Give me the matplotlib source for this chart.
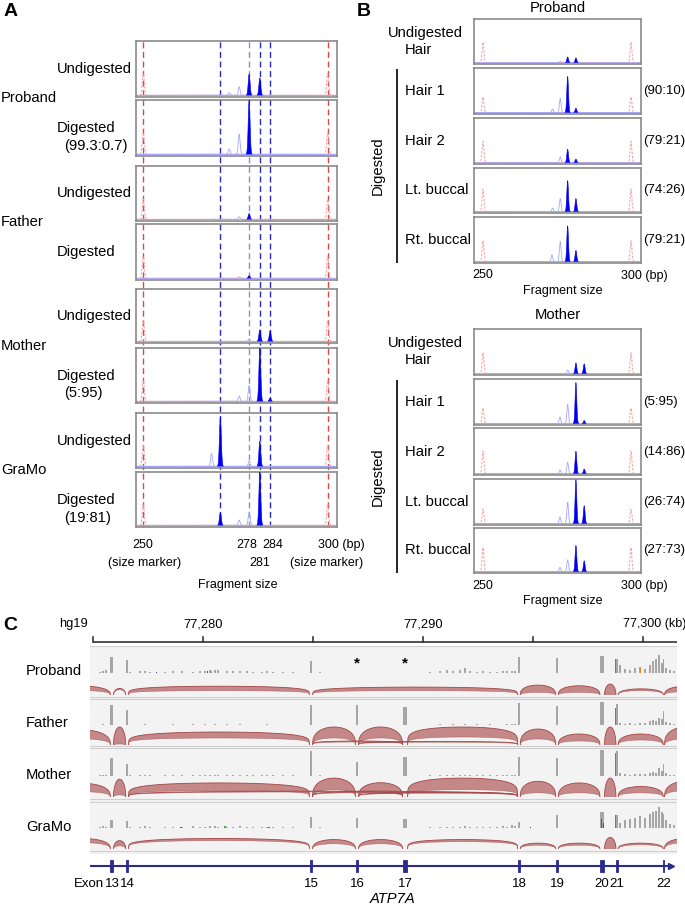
import numpy as np
import matplotlib
matplotlib.use('Agg')
import matplotlib.pyplot as plt
from matplotlib.patches import Rectangle

plt.rcParams['font.family'] = ['Liberation Sans', 'DejaVu Sans']

# ====================== DATA ======================
# ---- Panel A (capillary electrophoresis, bp) ----
A_SAMPLES = ['Proband', 'Father', 'Mother', 'GraMo']
A_ROWS = ['Undigested', 'Digested'] * 4
A_RATIOS = ['', '(99.3:0.7)', '', '', '', '(5:95)', '', '(19:81)']
A_GUIDES_BP = [270.9, 278.7, 281.6, 284.4]
MARKERS_BP = [250, 300]
A_MAIN_POS = [[278.7, 281.6], [278.7], [278.7], [278.7],
              [281.6, 284.4], [281.6, 284.4], [270.9, 281.6], [270.9, 281.6]]
A_MAIN_H = [[0.39, 0.32], [1.0], [0.11], [0.05],
            [0.22, 0.20], [1.0, 0.06], [0.93, 0.47], [0.24, 1.0]]
A_FAINT_POS = [[273.3, 276.0], [273.3, 276.0], [276.0], [276.0],
               [278.7], [276.0, 278.7], [268.5, 278.7], [276.0, 278.7]]
A_FAINT_H = [[0.05, 0.16], [0.10, 0.37], [0.05], [0.03],
             [0.05], [0.10, 0.30], [0.24, 0.10], [0.10, 0.25]]
A_MARKER_H = [0.40, 0.40, 0.38, 0.40, 0.40, 0.40, 0.40, 0.40]

# ---- Panel B ----
B_ROWS = ['Hair 1', 'Hair 2', 'Lt. buccal', 'Rt. buccal']
B_PRO_RATIOS = ['(90:10)', '(79:21)', '(74:26)', '(79:21)']
B_MOM_RATIOS = ['(5:95)', '(14:86)', '(26:74)', '(27:73)']
B_PRO_MAIN_POS = [[278.6, 281.4]] * 5
B_PRO_MAIN_H = [[0.13, 0.11], [0.81, 0.10], [0.30, 0.08], [0.71, 0.30], [0.80, 0.25]]
B_PRO_FAINT_POS = [[276.0], [273.5, 276.1], [276.1], [273.5, 276.1], [273.3, 276.1]]
B_PRO_FAINT_H = [[0.03], [0.08, 0.32], [0.13], [0.08, 0.30], [0.15, 0.45]]
B_PRO_MARKER_H = [0.47, 0.35, 0.48, 0.52, 0.47]
B_MOM_MAIN_POS = [[281.4, 284.2]] * 5
B_MOM_MAIN_H = [[0.24, 0.22], [0.92, 0.07], [0.49, 0.10], [0.98, 0.40], [0.60, 0.25]]
B_MOM_FAINT_POS = [[278.6], [276.0, 278.6], [276.0, 278.6], [276.0, 278.6], [276.0, 278.6]]
B_MOM_FAINT_H = [[0.08], [0.15, 0.43], [0.08, 0.25], [0.15, 0.48], [0.10, 0.27]]
B_MOM_MARKER_H = [0.47, 0.35, 0.50, 0.33, 0.55]

# ---- Panel C (RNA-seq sashimi, kb on chrX hg19) ----
C_SAMPLES = ['Proband', 'Father', 'Mother', 'GraMo']
RULER_TICKS_KB = [77275, 77280, 77285, 77290, 77295, 77300]
RULER_LABELS = {77280: '77,280', 77290: '77,290', 77300: '77,300 (kb)'}
EXON_NAMES = ['13', '14', '15', '16', '17', '18', '19', '20', '21', '22']
EXON_KB = [77275.86, 77276.55, 77284.91, 77287.00, 77289.18,
           77294.36, 77296.09, 77298.14, 77298.82, 77300.95]
EXON_W_KB = [0.13, 0.11, 0.13, 0.13, 0.22, 0.11, 0.11, 0.20, 0.09, 0.05]

COV_PROBAND = [0.62, 0.50, 0.45, 0.0, 0.0, 0.62, 0.57, 0.65, 0.55, 0.55]
COV_FATHER = [0.80, 0.60, 0.80, 0.80, 0.72, 0.88, 0.76, 0.92, 0.84, 0.55]
COV_MOTHER = [0.70, 0.45, 0.95, 0.55, 0.75, 0.73, 0.70, 1.00, 0.95, 0.45]
COV_GRAMO = [0.30, 0.28, 0.43, 0.38, 0.35, 0.25, 0.50, 0.63, 0.50, 0.55]

NOISE_KB = [77275.32, 77275.45, 77275.59, 77276.68, 77277.14, 77277.36, 77277.59, 77278.27,
            77278.64, 77279.05, 77279.55, 77279.86, 77280.09, 77280.32, 77280.55, 77280.68,
            77281.09, 77281.36, 77281.68, 77282.00, 77282.27, 77282.68, 77282.91, 77283.18,
            77283.64, 77284.09, 77285.32,
            77290.32, 77290.77, 77291.09, 77291.36, 77291.68, 77291.91, 77292.14, 77292.45,
            77292.73, 77293.05, 77293.36, 77293.64, 77293.82, 77294.05, 77294.18,
            77298.95, 77299.18, 77299.41, 77299.64, 77299.86, 77300.09, 77300.32, 77300.45,
            77300.59, 77300.73, 77300.86, 77301.05, 77301.23, 77301.41]
NOISE_PROBAND = [0.05, 0.08, 0.10, 0.05, 0.06, 0.08, 0.05, 0.04, 0.07, 0.06, 0.05, 0.06, 0.08, 0.10,
                 0.12, 0.10, 0.07, 0.08, 0.07, 0.06, 0.04, 0.05, 0.06, 0.05, 0.03, 0.02, 0.03,
                 0.03, 0.06, 0.10, 0.08, 0.10, 0.20, 0.08, 0.05, 0.06, 0.04, 0.03, 0.08, 0.06, 0.08, 0.07,
                 0.30, 0.15, 0.10, 0.20, 0.25, 0.15, 0.30, 0.45, 0.55, 0.70, 0.40, 0.20, 0.10, 0.08]
NOISE_FATHER = [0.02, 0.03, 0.02, 0.02, 0.02, 0.03, 0.02, 0.02, 0.03, 0.02, 0.03, 0.02, 0.03, 0.02,
                0.03, 0.02, 0.03, 0.02, 0.03, 0.02, 0.02, 0.02, 0.03, 0.02, 0.02, 0.02, 0.02,
                0.02, 0.03, 0.02, 0.03, 0.02, 0.03, 0.02, 0.03, 0.02, 0.03, 0.02, 0.02, 0.03, 0.04, 0.03,
                0.10, 0.05, 0.08, 0.06, 0.10, 0.08, 0.15, 0.20, 0.15, 0.30, 0.25, 0.12, 0.08, 0.05]
NOISE_MOTHER = [0.02, 0.02, 0.02, 0.02, 0.03, 0.02, 0.02, 0.02, 0.02, 0.03, 0.02, 0.02, 0.02, 0.03,
                0.02, 0.02, 0.02, 0.03, 0.02, 0.02, 0.02, 0.02, 0.02, 0.02, 0.02, 0.02, 0.02,
                0.03, 0.03, 0.02, 0.03, 0.03, 0.02, 0.03, 0.03, 0.02, 0.03, 0.03, 0.02, 0.03, 0.04, 0.03,
                0.10, 0.06, 0.04, 0.06, 0.08, 0.06, 0.12, 0.15, 0.10, 0.30, 0.20, 0.10, 0.05, 0.04]
NOISE_GRAMO = [0.04, 0.06, 0.05, 0.05, 0.04, 0.06, 0.05, 0.04, 0.05, 0.04, 0.06, 0.05, 0.05, 0.06,
               0.07, 0.05, 0.04, 0.05, 0.06, 0.05, 0.04, 0.05, 0.04, 0.05, 0.04, 0.05, 0.04,
               0.04, 0.05, 0.04, 0.05, 0.04, 0.06, 0.05, 0.04, 0.05, 0.04, 0.05, 0.06, 0.05, 0.10, 0.08,
               0.20, 0.30, 0.35, 0.40, 0.45, 0.40, 0.55, 0.60, 0.65, 0.80, 0.60, 0.30, 0.15, 0.10]

MIS_PROBAND_KB = [77277.90, 77280.20, 77280.40, 77298.75, 77299.90]
MIS_PROBAND_H = [0.04, 0.06, 0.08, 0.55, 0.20]
MIS_PROBAND_C = ['#4040d0', '#d03030', '#e08a20', '#30b030', '#e08a20']
MIS_FATHER_KB = [77298.75]
MIS_FATHER_H = [0.70]
MIS_FATHER_C = ['#30b030']
MIS_MOTHER_KB = [77298.75]
MIS_MOTHER_H = [0.90]
MIS_MOTHER_C = ['#30b030']
MIS_GRAMO_KB = [77279.00, 77281.00, 77283.00, 77294.90, 77298.10, 77298.20, 77298.75]
MIS_GRAMO_H = [0.05, 0.06, 0.05, 0.04, 0.35, 0.20, 0.50]
MIS_GRAMO_C = ['#d03030', '#30b030', '#d03030', '#4040d0', '#d03030', '#4040d0', '#30b030']

# canonical junctions 12-13, 13-14, ..., 21-22, 22-23
JUNC_START = [77273.30, 77275.93, 77276.61, 77284.98, 77287.07, 77289.30,
              77294.42, 77296.15, 77298.25, 77298.87, 77300.98]
JUNC_END = [77275.79, 77276.49, 77284.84, 77286.93, 77289.07, 77294.30,
            77296.03, 77298.04, 77298.77, 77300.92, 77302.90]
ARC_OUT_PROBAND = [0.40, 0.30, 0.40, 0.0, 0.0, 0.0, 0.45, 0.42, 0.50, 0.28, 0.40]
ARC_IN_PROBAND = [0.20, 0.24, 0.20, 0.0, 0.0, 0.0, 0.12, 0.12, 0.00, 0.20, 0.15]
ARC_OUT_FATHER = [0.75, 0.90, 0.65, 0.90, 0.90, 0.90, 0.80, 0.55, 0.90, 0.55, 0.90]
ARC_IN_FATHER = [0.30, 0.05, 0.35, 0.35, 0.35, 0.40, 0.30, 0.20, 0.00, 0.25, 0.30]
ARC_OUT_MOTHER = [0.65, 0.85, 0.67, 0.90, 0.68, 0.90, 0.75, 0.67, 0.90, 0.50, 0.75]
ARC_IN_MOTHER = [0.25, 0.10, 0.30, 0.35, 0.30, 0.35, 0.20, 0.20, 0.00, 0.20, 0.30]
ARC_OUT_GRAMO = [0.50, 0.40, 0.50, 0.45, 0.45, 0.45, 0.28, 0.28, 0.55, 0.28, 0.50]
ARC_IN_GRAMO = [0.30, 0.15, 0.40, 0.25, 0.25, 0.35, 0.18, 0.18, 0.00, 0.20, 0.30]
# exon-skipping junctions
SKIP_PROBAND = ([77284.98], [77294.30], [0.36], [0.20])
SKIP_FATHER = ([77284.98, 77287.07], [77289.07, 77294.30], [0.20, 0.18], [0.15, 0.14])
SKIP_MOTHER = ([77276.61, 77284.98, 77287.07], [77294.30, 77289.07, 77294.30],
               [0.28, 0.25, 0.22], [0.24, 0.20, 0.18])
SKIP_GRAMO = ([], [], [], [])

# ====================== FIGURE ======================
W, H = 685, 905
fig = plt.figure(figsize=(W / 100, H / 100), dpi=100)


def ax_px(x0, y0, x1, y1, **kw):
    return fig.add_axes([x0 / W, 1 - y1 / H, (x1 - x0) / W, (y1 - y0) / H], **kw)


def txt(x, y, s, **kw):
    kw.setdefault('va', 'center')
    return fig.text(x / W, 1 - y / H, s, **kw)


LAB = 10.6
AXF = 9.0
BLUE = '#0000f0'


def draw_trace(ax, xlim, mpos, mh, fpos, fh, mk_h, sigma):
    xs = np.linspace(xlim[0], xlim[1], 2500)
    ax.plot(xs, np.full_like(xs, 0.0), color='#d6d6ff', lw=0.6, zorder=1)
    for m in MARKERS_BP:
        g = mk_h * np.exp(-0.5 * ((xs - m) / (sigma * 1.1)) ** 2)
        ax.plot(xs, g, color='#f2a0a0', lw=0.7, ls=(0, (2.5, 1.5)), zorder=2)
    for p, h in zip(fpos, fh):
        g = h * np.exp(-0.5 * ((xs - p) / sigma) ** 2)
        ax.plot(xs, g, color='#a3a8ff', lw=0.6, zorder=2)
    for p, h in zip(mpos, mh):
        g = h * np.exp(-0.5 * ((xs - p) / sigma) ** 2)
        ax.fill_between(xs, 0, g, where=g > 0.004, facecolor=BLUE, edgecolor='none',
                        lw=0, zorder=3)
        ax.plot(xs[g > 0.004], g[g > 0.004], color=BLUE, lw=0.4, zorder=3)
    ax.set_xlim(*xlim)
    ax.set_ylim(-0.03, 1.0)
    ax.set_xticks([])
    ax.set_yticks([])
    ax.set_facecolor('none')
    for s in ax.spines.values():
        s.set_color('#8a8a8a')
        s.set_linewidth(1.2)


# ---------------- Panel A ----------------
A_XLIM = (248.02, 302.52)
A_BOX_Y = [(41, 97), (100, 156), (166, 221), (224, 280), (289, 343), (348, 403), (413, 468), (472, 527)]
ov = ax_px(136, 41, 337, 527)
ov.set_xlim(*A_XLIM)
ov.set_ylim(0, 1)
ov.axis('off')
for m in MARKERS_BP:
    ov.axvline(m, color='#e04848', lw=1.0, ls=(0, (4.3, 2.6)))
for i, g in enumerate(A_GUIDES_BP):
    ov.axvline(g, color='#8c8cd2' if i == 1 else '#2a2ac0', lw=1.0, ls=(0, (4.3, 2.6)))

for i, (y0, y1) in enumerate(A_BOX_Y):
    ax = ax_px(136, y0, 337, y1)
    draw_trace(ax, A_XLIM, A_MAIN_POS[i], A_MAIN_H[i], A_FAINT_POS[i], A_FAINT_H[i], A_MARKER_H[i], 0.25)
    yc = (y0 + y1) / 2
    txt(57, yc, A_ROWS[i], fontsize=LAB, ha='left')
    if A_RATIOS[i]:
        txt(64, yc + 18, A_RATIOS[i], fontsize=LAB, ha='left')

for name, y in zip(A_SAMPLES, [98, 222, 346, 470]):
    txt(1, y, name, fontsize=LAB, ha='left')

txt(143, 545, '250', fontsize=AXF, ha='center')
txt(145, 563, '(size marker)', fontsize=AXF, ha='center')
txt(247, 545, '278', fontsize=AXF, ha='center')
txt(273, 545, '284', fontsize=AXF, ha='center')
txt(260, 563, '281', fontsize=AXF, ha='center')
txt(318, 545, '300 (bp)', fontsize=AXF, ha='left')
txt(327, 563, '(size marker)', fontsize=AXF, ha='center')
txt(238, 585, 'Fragment size', fontsize=AXF, ha='center')
txt(4, 12, 'A', fontsize=14, fontweight='bold', ha='left')

# ---------------- Panel B ----------------
B_XLIM = (246.96, 303.38)


def panel_b(title, ty, boxes, mpos, mh, fpos, fh, mk, ratios, ax_y):
    txt(558, ty, title, fontsize=LAB, ha='center')
    for i, (y0, y1) in enumerate(boxes):
        ax = ax_px(474, y0, 641, y1)
        draw_trace(ax, B_XLIM, mpos[i], mh[i], fpos[i], fh[i], mk[i], 0.28)
        yc = (y0 + y1) / 2
        if i == 0:
            txt(388, yc - 8.5, 'Undigested', fontsize=LAB, ha='left')
            txt(405, yc + 8.5, 'Hair', fontsize=LAB, ha='left')
        else:
            txt(405, yc, B_ROWS[i - 1], fontsize=LAB, ha='left')
            txt(643, yc, ratios[i - 1], fontsize=9.5, ha='left')
    top = boxes[1][0] + 1
    bot = boxes[-1][1]
    ln = ax_px(390, top, 404, bot)
    ln.axis('off')
    ln.set_xlim(0, 1)
    ln.set_ylim(0, 1)
    ln.plot([0.5, 0.5], [0, 1], color='black', lw=1.2)
    txt(378, (top + bot) / 2, 'Digested', fontsize=LAB, ha='center', rotation=90)
    txt(483, ax_y, '250', fontsize=AXF, ha='center')
    txt(621, ax_y, '300 (bp)', fontsize=AXF, ha='left')
    txt(563, ax_y + 15.5, 'Fragment size', fontsize=AXF, ha='center')


panel_b('Proband', 8, [(19, 64), (68, 114), (118, 164), (168, 213), (217, 263)],
        B_PRO_MAIN_POS, B_PRO_MAIN_H, B_PRO_FAINT_POS, B_PRO_FAINT_H, B_PRO_MARKER_H,
        B_PRO_RATIOS, 275.5)
panel_b('Mother', 315, [(329, 375), (379, 425), (428, 475), (479, 525), (528, 573)],
        B_MOM_MAIN_POS, B_MOM_MAIN_H, B_MOM_FAINT_POS, B_MOM_FAINT_H, B_MOM_MARKER_H,
        B_MOM_RATIOS, 585.5)
txt(357, 12, 'B', fontsize=14, fontweight='bold', ha='left')

# ---------------- Panel C ----------------
KB_LIM = (77274.864, 77301.545)
CX0, CX1 = 90, 677

txt(3, 625, 'C', fontsize=14, fontweight='bold', ha='left')
txt(88, 624, 'hg19', fontsize=9.3, ha='right')

ru = ax_px(CX0, 630, CX1, 646)
ru.set_xlim(*KB_LIM)
ru.set_ylim(0, 1)
ru.axis('off')
ru.plot([RULER_TICKS_KB[0], KB_LIM[1]], [0.25, 0.25], color='#333333', lw=1.2, solid_capstyle='butt')
for t in RULER_TICKS_KB:
    ru.plot([t, t], [0.25, 0.58], color='#333333', lw=1.2)
    if t in RULER_LABELS:
        lab = RULER_LABELS[t]
        if '(kb)' in lab:
            ru.text(t - 0.9, 1.37, lab, fontsize=9.0, ha='left', va='center', clip_on=False)
        else:
            ru.text(t, 1.37, lab, fontsize=9.3, ha='center', va='center', clip_on=False)

bg = ax_px(CX0, 646, CX1, 854)
bg.set_xlim(0, 1)
bg.set_ylim(854, 646)
bg.set_facecolor('#f3f3f3')
for s in bg.spines.values():
    s.set_visible(False)
bg.set_xticks([])
bg.set_yticks([])
for yy in [646.5, 697, 699.5, 746, 748.5, 799, 801.5, 851, 853.5]:
    bg.axhline(yy, color='#cfcfcf', lw=0.8)

ROWS_C = [(647, 673, 695), (700, 725, 745), (750, 776, 797), (802, 828, 849)]
C_LABEL_Y = [671, 723, 775, 827]
COVS = [COV_PROBAND, COV_FATHER, COV_MOTHER, COV_GRAMO]
NOISES = [NOISE_PROBAND, NOISE_FATHER, NOISE_MOTHER, NOISE_GRAMO]
MIS = [(MIS_PROBAND_KB, MIS_PROBAND_H, MIS_PROBAND_C), (MIS_FATHER_KB, MIS_FATHER_H, MIS_FATHER_C),
       (MIS_MOTHER_KB, MIS_MOTHER_H, MIS_MOTHER_C), (MIS_GRAMO_KB, MIS_GRAMO_H, MIS_GRAMO_C)]
ARCS = [(ARC_OUT_PROBAND, ARC_IN_PROBAND, SKIP_PROBAND), (ARC_OUT_FATHER, ARC_IN_FATHER, SKIP_FATHER),
        (ARC_OUT_MOTHER, ARC_IN_MOTHER, SKIP_MOTHER), (ARC_OUT_GRAMO, ARC_IN_GRAMO, SKIP_GRAMO)]
GREY = '#a6a6a6'
ARC_FILL = '#c48888'
ARC_EDGE = '#a44646'


def draw_arc(ax, s, e, ho, hi):
    span = e - s
    p = 0.5 if span < 1.0 else (0.38 if span < 3.0 else 0.22)
    t = np.linspace(0, 1, 400)
    xs = s + span * t
    b = np.clip(4 * t * (1 - t), 0, 1)
    yo = ho * b ** p
    yi = hi * b ** p
    ax.fill_between(xs, yi, yo, facecolor=ARC_FILL, edgecolor='none', zorder=2)
    ax.plot(xs, yo, color=ARC_EDGE, lw=0.6, zorder=3)
    ax.plot(xs, yi, color=ARC_EDGE, lw=0.4, alpha=0.7, zorder=3)


for k, (yt, yb, ya) in enumerate(ROWS_C):
    txt(26, C_LABEL_Y[k], C_SAMPLES[k], fontsize=LAB, ha='left')
    cv = ax_px(CX0, yt, CX1, yb)
    cv.set_xlim(*KB_LIM)
    cv.set_ylim(0, 1)
    cv.axis('off')
    cv.bar(EXON_KB, COVS[k], width=EXON_W_KB, color=GREY, lw=0, align='center')
    cv.bar(NOISE_KB, NOISES[k], width=0.07, color=GREY, lw=0)
    mk, mh, mc = MIS[k]
    cv.bar(mk, mh, width=0.05, color=mc, lw=0)

    ar = ax_px(CX0, yb, CX1, ya)
    ar.set_xlim(*KB_LIM)
    ar.set_ylim(0, 1)
    ar.axis('off')
    ao, ai, sk = ARCS[k]
    for s, e, ho, hi in zip(JUNC_START, JUNC_END, ao, ai):
        if ho > 0:
            draw_arc(ar, s, e, ho, hi)
    for s, e, ho, hi in zip(*sk):
        draw_arc(ar, s, e, ho, hi)

txt(357, 663, '*', fontsize=11, fontweight='bold', ha='center')
txt(405, 663, '*', fontsize=11, fontweight='bold', ha='center')

# gene model
NAVY = '#2b2b8e'
ge = ax_px(CX0, 856, CX1, 876)
ge.set_xlim(*KB_LIM)
ge.set_ylim(0, 1)
ge.axis('off')
ge.plot([KB_LIM[0], KB_LIM[1] - 0.3], [0.5, 0.5], color=NAVY, lw=1.5)
ge.plot([KB_LIM[1] - 0.25], [0.5], marker='>', color=NAVY, markersize=5, clip_on=False)
for xk, wk in zip(EXON_KB, EXON_W_KB):
    ge.add_patch(Rectangle((xk - wk / 2, 0.2), wk, 0.6, facecolor=NAVY, edgecolor=NAVY, lw=0.6))
for xk, nm in zip(EXON_KB, EXON_NAMES):
    ge.text(xk, -0.4, nm, fontsize=9.5, ha='center', va='center', clip_on=False)
ge.text(EXON_KB[0] - 0.38, -0.4, 'Exon', fontsize=9.5, ha='right', va='center', clip_on=False)
txt(393, 899, 'ATP7A', fontsize=LAB, ha='center', style='italic')

fig.savefig('out.png', dpi=100)
